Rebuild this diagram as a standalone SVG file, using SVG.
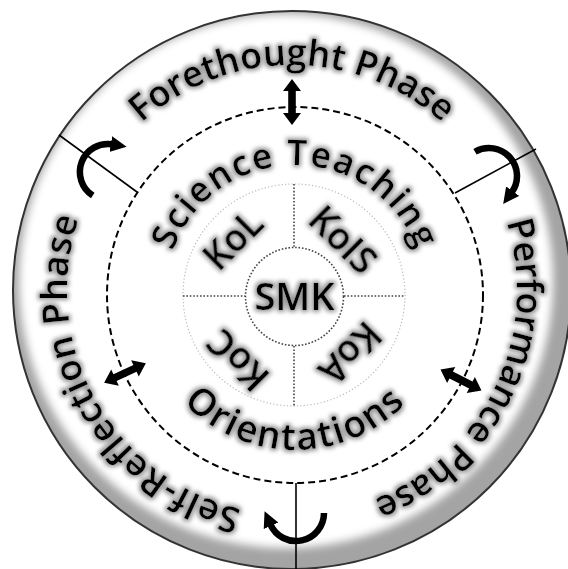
<svg xmlns="http://www.w3.org/2000/svg" xmlns:xlink="http://www.w3.org/1999/xlink" width="568" height="569" viewBox="0 0 568 569">
  <style>
    .t { font-family: "Open Sans", "Noto Sans", "DejaVu Sans", sans-serif; font-weight: 600; fill: #000; filter: url(#glow); }
    .outer { font-size: 36px; }
    .inner { font-size: 35px; letter-spacing: 2px; }
    .quad { font-size: 37px; }
    .div { stroke: #000; stroke-width: 1.6; fill: none; }
    .curve { stroke: #000; stroke-width: 6.5; fill: none; marker-end: url(#head); }
    .dot { stroke: #444; stroke-width: 1.6; stroke-dasharray: 1.6 1.8; fill: none; }
  </style>
  <defs>
    <filter id="glow" x="-20%" y="-20%" width="140%" height="140%">
      <feMorphology in="SourceAlpha" operator="dilate" radius="1.6" result="d"/>
      <feGaussianBlur in="d" stdDeviation="2" result="b"/>
      <feFlood flood-color="#9a9a9a"/>
      <feComposite in2="b" operator="in" result="g"/>
      <feMerge><feMergeNode in="g"/><feMergeNode in="SourceGraphic"/></feMerge>
    </filter>
    <filter id="soft" x="-10%" y="-10%" width="120%" height="120%">
      <feGaussianBlur stdDeviation="4"/>
    </filter>
    <clipPath id="outerClip"><circle cx="292" cy="290" r="279"/></clipPath>
    <marker id="head" viewBox="0 0 10 10" refX="1" refY="5" markerUnits="userSpaceOnUse" markerWidth="16" markerHeight="16" orient="auto">
      <path d="M0,0 L10,5 L0,10 Z" fill="#000"/>
    </marker>
    <path id="dbl" d="M-23,0 L-11,-9 L-11,-3.8 L11,-3.8 L11,-9 L23,0 L11,9 L11,3.8 L-11,3.8 L-11,9 Z" fill="#000"/>
    <path id="outerPath" d="M 292 515 A 225 225 0 1 1 292 65 A 225 225 0 1 1 292 515"/>
    <path id="topInner" d="M 165 295 A 130 130 0 0 1 425 295"/>
    <path id="botInner" d="M 140 295 A 155 155 0 0 0 450 295"/>
  </defs>

  <rect width="568" height="569" fill="#fff"/>

  <g id="outer-ring">
    <g clip-path="url(#outerClip)">
      <circle cx="292" cy="290" r="279" fill="#a4a4a4"/>
      <circle cx="286" cy="281" r="267" fill="#fff" filter="url(#soft)"/>
    </g>
    <circle cx="292" cy="290" r="279" fill="none" stroke="#333" stroke-width="2"/>
  </g>

  <g id="dashed-ring">
    <circle cx="295" cy="295" r="188" fill="none" stroke="#000" stroke-width="2" stroke-dasharray="7 4"/>
  </g>

  <g id="center-grid">
    <circle cx="294" cy="295" r="111" fill="none" stroke="#bbb" stroke-width="1.2" stroke-dasharray="1.2 2.2"/>
    <circle cx="294.5" cy="296.5" r="49" class="dot"/>
    <line x1="294" y1="184" x2="294" y2="247" class="dot"/>
    <line x1="294" y1="346" x2="294" y2="406" class="dot"/>
    <line x1="183" y1="296" x2="245" y2="296" class="dot"/>
    <line x1="344" y1="296" x2="405" y2="296" class="dot"/>
  </g>

  <g id="connectors">
    <line x1="137" y1="192" x2="59" y2="135" class="div"/>
    <line x1="455" y1="193" x2="536" y2="149" class="div"/>
    <line x1="296" y1="483" x2="296" y2="569" class="div"/>
    <use xlink:href="#dbl" transform="translate(292,102) rotate(90)"/>
    <use xlink:href="#dbl" transform="translate(461,380) rotate(27)"/>
    <use xlink:href="#dbl" transform="translate(125,373) rotate(155)"/>
    <path d="M 324 513 A 28 28 0 0 1 270.4 524.4" class="curve"/>
    <path d="M 475 151.75 A 28 28 0 0 1 511.65 192.46" class="curve"/>
    <path d="M 92.75 195.5 A 28 28 0 0 1 112.4 144.3" class="curve"/>
  </g>

  <g id="forethought">
    <text class="t outer"><textPath xlink:href="#outerPath" startOffset="50%" text-anchor="middle">Forethought Phase</textPath></text>
  </g>
  <g id="performance">
    <text class="t outer"><textPath xlink:href="#outerPath" startOffset="82.1%" text-anchor="middle">Performance Phase</textPath></text>
  </g>
  <g id="self-reflection">
    <text class="t outer" style="letter-spacing:0.6px"><textPath xlink:href="#outerPath" startOffset="16.9%" text-anchor="middle">Self-Reflection Phase</textPath></text>
  </g>

  <g id="science-teaching">
    <text class="t inner"><textPath xlink:href="#topInner" startOffset="50%" text-anchor="middle">Science Teaching</textPath></text>
  </g>
  <g id="orientations">
    <text class="t inner" style="font-size:37px"><textPath xlink:href="#botInner" startOffset="50%" text-anchor="middle">Orientations</textPath></text>
  </g>

  <g id="kol"><text class="t quad" text-anchor="middle" transform="translate(233,240) rotate(-45)" dy="13">KoL</text></g>
  <g id="kois"><text class="t quad" text-anchor="middle" transform="translate(343,240) rotate(45)" dy="13">KoIS</text></g>
  <g id="koa"><text class="t quad" text-anchor="middle" transform="translate(350,353) rotate(135)" dy="13">KoA</text></g>
  <g id="koc"><text class="t quad" text-anchor="middle" transform="translate(238,360) rotate(-135)" dy="13">KoC</text></g>
  <g id="smk"><text class="t quad" text-anchor="middle" x="294.5" y="310" style="font-size:38px">SMK</text></g>
</svg>
